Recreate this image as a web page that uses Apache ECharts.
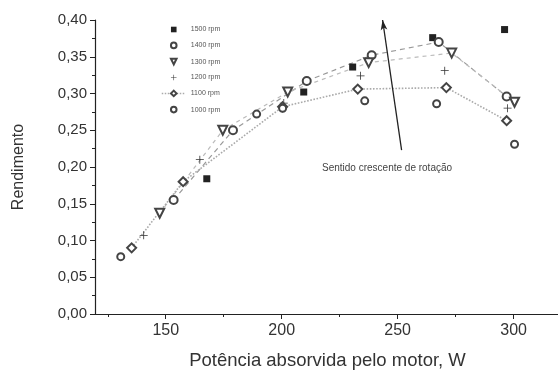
<!DOCTYPE html>
<html>
<head>
<meta charset="utf-8">
<script src="https://cdn.jsdelivr.net/npm/echarts@6/dist/echarts.min.js"></script>
<style>
  html, body { margin: 0; padding: 0; background: #fff; }
  #chart { width: 558px; height: 370px; }
</style>
</head>
<body>
<div id="chart"></div>
<script>
// pontos: [potencia W, rendimento]
const p1500 = [[167.7, 0.184], [209.5, 0.302], [230.6, 0.336], [265.1, 0.376], [296.1, 0.387]];
const p1400 = [[153.4, 0.155], [179.0, 0.250], [210.8, 0.317], [238.8, 0.352], [267.7, 0.370], [297.0, 0.296]];
const p1300 = [[147.4, 0.137], [174.6, 0.250], [202.6, 0.302], [237.5, 0.342], [273.3, 0.355], [300.4, 0.288]];
const p1200 = [[140.5, 0.107], [164.7, 0.210], [200.9, 0.287], [234.0, 0.324], [270.3, 0.331], [297.4, 0.280]];
const p1100 = [[135.3, 0.090], [157.5, 0.180], [200.4, 0.282], [232.8, 0.306], [271.0, 0.308], [297.0, 0.263]];
const p1000 = [[130.6, 0.078], [189.2, 0.272], [200.4, 0.280], [235.8, 0.290], [266.8, 0.286], [300.4, 0.231]];
const seriesNames = ['1500 rpm', '1400 rpm', '1300 rpm', '1200 rpm', '1100 rpm', '1000 rpm'];
const xTicks = [150, 200, 250, 300];
const xMinorTicks = [125, 175, 225, 275];
// seta "sentido crescente de rotacao"
const arrowFrom = [251.7, 0.223];
const arrowTo = [243.5, 0.400];

const font = '"Liberation Sans", Arial, sans-serif';
const plus = 'path://M4.5,0H5.5V4.5H10V5.5H5.5V10H4.5V5.5H0V4.5H4.5Z';

function mk(name, data, symbol, size, line, extra) {
  return Object.assign({
    name: name,
    type: 'line',
    data: data,
    symbol: symbol,
    symbolSize: size,
    showSymbol: true,
    z: 3,
    itemStyle: { color: '#444', borderColor: '#444', borderWidth: 0.8 },
    lineStyle: line || { width: 0, opacity: 0 },
    emphasis: { disabled: true },
    animation: false
  }, extra || {});
}

const axisCommon = {
  type: 'value',
  min: 119.5, max: 320,
  splitLine: { show: false }
};

const chart = echarts.init(document.getElementById('chart'));
chart.setOption({
  backgroundColor: '#fff',
  animation: false,
  textStyle: { fontFamily: font },
  grid: { left: 95, right: -2, top: 20, bottom: 56, outerBoundsMode: 'none', containLabel: false },
  legend: {
    orient: 'vertical',
    left: 156,
    top: 21,
    itemWidth: 24,
    itemHeight: 7,
    itemGap: 8.6,
    textStyle: { fontSize: 7, color: '#555', fontFamily: font },
    lineStyle: { width: 0, opacity: 0 },
    data: seriesNames.map(function (n) {
      if (n === '1100 rpm') {
        return { name: n, lineStyle: { width: 1.5, opacity: 1, type: 'dotted', color: '#aaa' } };
      }
      return { name: n };
    })
  },
  xAxis: [Object.assign({}, axisCommon, {
    axisLine: { lineStyle: { color: '#222', width: 1.2 } },
    axisTick: { inside: false, length: 5, customValues: xTicks, lineStyle: { color: '#222' } },
    axisLabel: { fontSize: 16, color: '#333', margin: 9, customValues: xTicks },
    name: 'Potência absorvida pelo motor, W',
    nameLocation: 'middle',
    nameGap: 37,
    nameTextStyle: { fontSize: 18.5, color: '#333' }
  }), Object.assign({}, axisCommon, {
    position: 'bottom',
    axisLine: { show: false },
    axisTick: { inside: false, length: 3, customValues: xMinorTicks, lineStyle: { color: '#222' } },
    axisLabel: { show: false }
  })],
  yAxis: {
    type: 'value',
    min: 0, max: 0.4, interval: 0.05,
    axisLine: { show: true, lineStyle: { color: '#222', width: 1.2 } },
    axisTick: { show: true, inside: false, length: 5, lineStyle: { color: '#222' } },
    minorTick: { show: true, splitNumber: 2, length: 3, lineStyle: { color: '#222' } },
    splitLine: { show: false },
    axisLabel: {
      fontSize: 15, color: '#333', margin: 8,
      formatter: function (v) { return v.toFixed(2).replace('.', ','); }
    },
    name: 'Rendimento',
    nameLocation: 'middle',
    nameGap: 68,
    nameRotate: 90,
    nameTextStyle: { fontSize: 16, color: '#333' }
  },
  graphic: [{
    type: 'text',
    left: 322, top: 163,
    style: { text: 'Sentido crescente de rotação', fontSize: 10, fill: '#444', fontFamily: font }
  }],
  series: [
    mk('1500 rpm', p1500, 'rect', 7, null, { itemStyle: { color: '#222', borderWidth: 0 } }),
    mk('1400 rpm', p1400, 'emptyCircle', 8, { width: 1.2, type: [5, 4], color: '#999' }),
    mk('1300 rpm', p1300, 'emptyTriangle', 9, { width: 1.2, type: [4, 4], color: '#bbb' }, { symbolRotate: 180 }),
    mk('1200 rpm', p1200, plus, 8, null, { itemStyle: { color: '#333', borderWidth: 0 } }),
    mk('1100 rpm', p1100, 'emptyDiamond', 9, { width: 1.6, type: 'dotted', color: '#aaa' }, {
      markLine: {
        silent: true,
        symbol: ['none', 'arrow'],
        symbolSize: [5, 10],
        label: { show: false },
        lineStyle: { color: '#222', width: 1.3, type: 'solid' },
        emphasis: { disabled: true },
        data: [[{ coord: arrowFrom }, { coord: arrowTo }]]
      }
    }),
    mk('1000 rpm', p1000, 'emptyCircle', 7)
  ]
});
</script>
</body>
</html>
